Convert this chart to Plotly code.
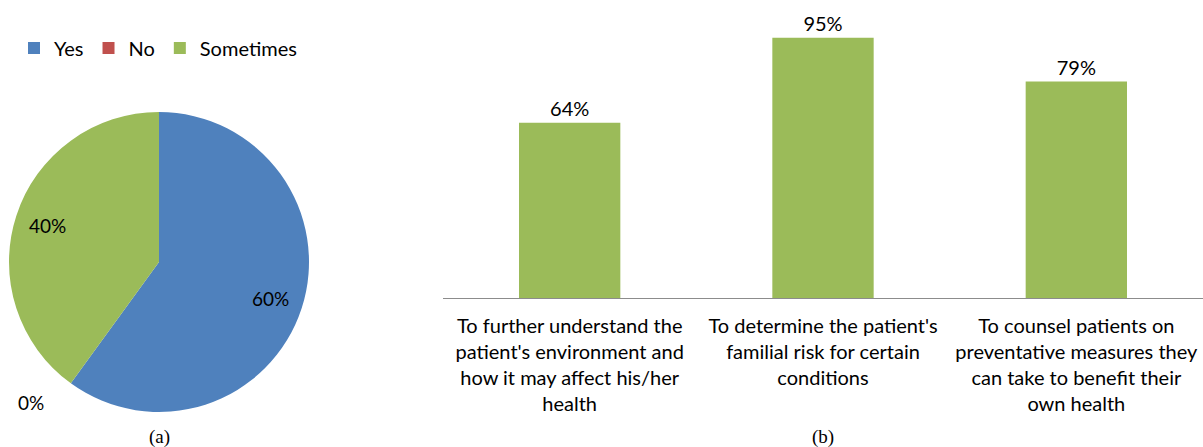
import math
import plotly.graph_objects as go

pie_labels = ["Yes", "No", "Sometimes"]
pie_values = [60, 0, 40]
pie_colors = ["#4F81BD", "#C0504D", "#9BBB59"]

bar_categories = [
    "To further understand the<br>patient's environment and<br>how it may affect his/her<br>health",
    "To determine the patient's<br>familial risk for certain<br>conditions",
    "To counsel patients on<br>preventative measures they<br>can take to benefit their<br>own health",
]
bar_values = [64, 95, 79]
bar_color = "#9BBB59"

W, H = 1203, 447
FONT = "Lato"

# pie geometry (pixels)
PCX, PCY, PR = 159, 262, 150

fig = go.Figure()

fig.add_trace(go.Pie(
    labels=pie_labels,
    values=pie_values,
    marker=dict(colors=pie_colors, line=dict(color="white", width=0)),
    sort=False,
    direction="clockwise",
    rotation=0,
    textinfo="none",
    domain=dict(x=[(PCX - PR) / W, (PCX + PR) / W], y=[1 - (PCY + PR) / H, 1 - (PCY - PR) / H]),
    showlegend=True,
    hoverinfo="label+percent",
))

# pie percentage labels, placed from the slice mid-angles
annotations = []
total = sum(pie_values)
cum = 0.0
for v in pie_values:
    frac = v / total
    mid = (cum + frac / 2) * 2 * math.pi
    cum += frac
    r = PR * 0.78 if v > 0 else PR * 1.27
    if v == 0:
        mid += 0.11
    px = PCX + r * math.sin(mid)
    py = PCY - r * math.cos(mid)
    annotations.append(dict(
        text=f"{round(frac * 100)}%", x=px / W, y=1 - py / H, xref="paper", yref="paper",
        showarrow=False, font=dict(family=FONT, size=19, color="#000000"),
        xanchor="center", yanchor="middle"))

fig.add_trace(go.Bar(
    x=bar_categories,
    y=bar_values,
    marker=dict(color=bar_color, line=dict(width=0)),
    texttemplate="%{y}%",
    textposition="outside",
    textfont=dict(family=FONT, size=20, color="#000000"),
    cliponaxis=False,
    showlegend=False,
    xaxis="x",
    yaxis="y",
))

annotations += [
    dict(text="(a)", x=159 / W, y=1 - 437 / H, xref="paper", yref="paper",
         showarrow=False, font=dict(family="Liberation Serif", size=19, color="#000000"),
         xanchor="center", yanchor="middle"),
    dict(text="(b)", x=823 / W, y=1 - 437 / H, xref="paper", yref="paper",
         showarrow=False, font=dict(family="Liberation Serif", size=19, color="#000000"),
         xanchor="center", yanchor="middle"),
]

fig.update_layout(
    width=W,
    height=H,
    margin=dict(l=0, r=0, t=0, b=0),
    paper_bgcolor="white",
    plot_bgcolor="white",
    font=dict(family=FONT, size=20, color="#000000"),
    bargap=0.6,
    legend=dict(
        orientation="h",
        x=14 / W,
        y=1 - 48 / H,
        xanchor="left",
        yanchor="middle",
        font=dict(family=FONT, size=20, color="#000000"),
        itemwidth=30,
    ),
    xaxis=dict(
        domain=[443 / W, 1.0],
        showline=True,
        linecolor="#8c8c8c",
        linewidth=1,
        ticks="",
        ticklabelstandoff=10,
        showgrid=False,
        tickfont=dict(family=FONT, size=20, color="#000000"),
        fixedrange=True,
    ),
    yaxis=dict(
        domain=[1 - 298 / H, 1 - 24 / H],
        range=[0, 100],
        visible=False,
        showgrid=False,
        zeroline=False,
    ),
    annotations=annotations,
)

fig.write_html("out.html")
